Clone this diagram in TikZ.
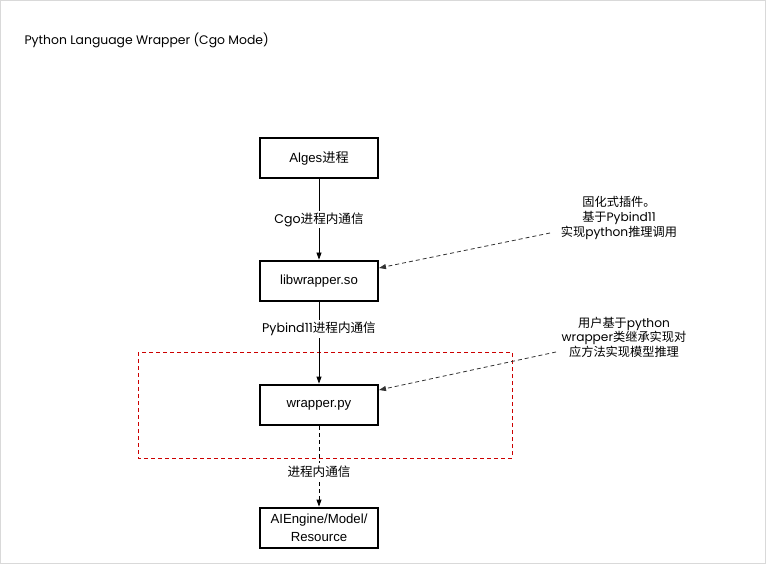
\documentclass[tikz,border=0pt]{standalone}
\usepackage{fontspec}
\setmainfont{Liberation Sans}
\newfontfamily\cjk{Noto Sans CJK SC}
\newfontfamily\geo{Poppins}
\usetikzlibrary{arrows.meta}
\begin{document}
\begin{tikzpicture}[x=1pt,y=-1pt,
  box/.style={draw,line width=2.8pt,minimum width=118pt,minimum height=40pt,inner sep=0pt,align=center,font=\fontsize{13.2}{18}\selectfont},
  elabel/.style={fill=white,inner sep=2pt,font=\fontsize{12.6}{15}\selectfont},
  conn/.style={line width=0.8pt,-{Triangle[length=7pt,width=5pt]}},
  note/.style={align=center,font=\fontsize{12.2}{14.6}\selectfont},
  noteconn/.style={line width=0.8pt,dash pattern=on 4pt off 3pt,draw=black!80,-{Triangle[length=7pt,width=5pt]}}]
\useasboundingbox (0,0) rectangle (766,564);
\draw[black!15,line width=1pt] (0.5,0.5) rectangle (765.5,563.5);
\node[anchor=west,font=\geo\fontsize{12.4}{15}\selectfont] (title) at (21,40) {Python Language Wrapper (Cgo Mode)};
\draw[red!80!black,line width=0.8pt,dash pattern=on 4pt off 3pt] (138,352) rectangle (512,458);
\node[box] (alges) at (319,158) {Alges{\cjk 进程}};
\node[box] (lib) at (319,281) {libwrapper.so};
\node[box] (wpy) at (319,405) {wrapper.py};
\node[box] (ai) at (319,528) {AIEngine/Model/\\Resource};
\draw[conn] (alges) -- node[elabel]{\geo Cgo{\cjk 进程内通信}} (lib);
\draw[conn] (lib) -- node[elabel,pos=0.33]{\geo Pybind11{\cjk 进程内通信}} (wpy);
\draw[conn,dash pattern=on 4pt off 3pt] (wpy) -- node[elabel,pos=0.56]{\cjk 进程内通信} (ai);
\node[note] (n1) at (619,218) {{\cjk 固化式插件。}\\{\cjk 基于}{\geo Pybind11}\\{\cjk 实现}{\geo python}{\cjk 推理调用}};
\node[note] (n2) at (624,337) {{\cjk 用户基于}{\geo python}\\{\geo wrapper}{\cjk 类继承实现对}\\{\cjk 应方法实现模型推理}};
\coordinate (n1s) at (550,233);
\coordinate (n2s) at (556,352);
\draw[noteconn] (n1s) -- (379,268);
\draw[noteconn] (n2s) -- (379,390);
\end{tikzpicture}
\end{document}
